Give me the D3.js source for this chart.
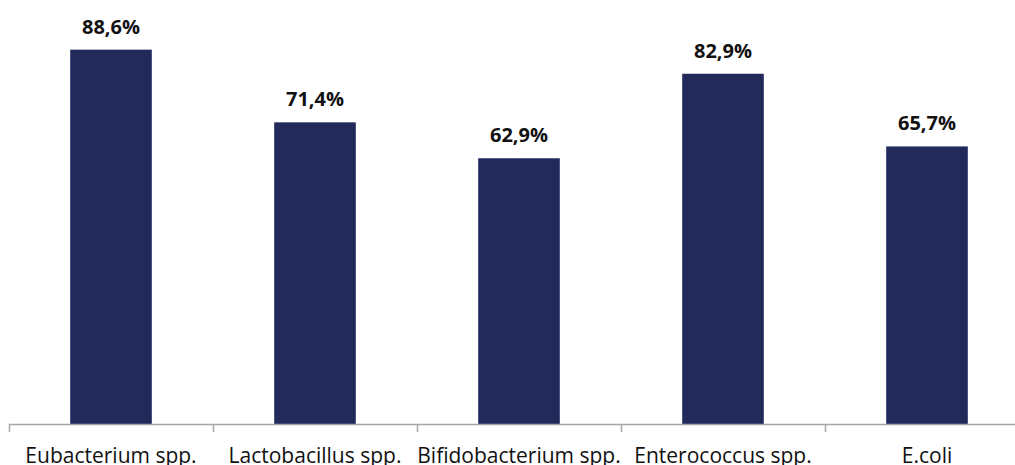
<!DOCTYPE html>
<html>
<head>
<meta charset="utf-8">
<script src="https://cdn.jsdelivr.net/npm/d3@7"></script>
<style>
  body { margin: 0; background: #fff; }
  svg { display: block; }
</style>
</head>
<body>
<svg></svg>
<script>
let categories = ["Eubacterium spp.", "Lactobacillus spp.", "Bifidobacterium spp.", "Enterococcus spp.", "E.coli"];
let values = [88.6, 71.4, 62.9, 82.9, 65.7];
let valueLabels = ["88,6%", "71,4%", "62,9%", "82,9%", "65,7%"];

window.addEventListener('load', e => {
    drawChart();
});

function drawChart() {
    let width = 1015;
    let height = 465;
    let baseline = 424;

    let svg = d3.select("svg")
        .attr("width", width)
        .attr("height", height);

    let xScale = d3.scaleBand()
                   .domain(categories)
                   .range([9, 1029])
                   .padding(0);

    let yScale = d3.scaleLinear()
                   .domain([0, 100])
                   .range([baseline, 1.5]);

    let barWidth = xScale.bandwidth() * 0.4;

    svg.selectAll(".bar")
        .data(values)
        .enter()
        .append("rect")
        .attr("class", "bar")
        .attr("x", (d, i) => xScale(categories[i]) + (xScale.bandwidth() - barWidth) / 2)
        .attr("y", d => yScale(d))
        .attr("width", barWidth)
        .attr("height", d => baseline - yScale(d))
        .attr("fill", "#222a5c");

    svg.selectAll(".value")
        .data(values)
        .enter()
        .append("text")
        .attr("class", "value")
        .attr("x", (d, i) => xScale(categories[i]) + xScale.bandwidth() / 2)
        .attr("y", d => yScale(d) - 16)
        .attr("text-anchor", "middle")
        .attr("font-family", "'Open Sans', sans-serif")
        .attr("font-weight", "bold")
        .attr("font-size", "20px")
        .attr("fill", "#111")
        .text((d, i) => valueLabels[i]);

    // axis line with ticks between categories
    let axis = svg.append("g");
    axis.append("line")
        .attr("x1", 9).attr("x2", width)
        .attr("y1", baseline + 0.5).attr("y2", baseline + 0.5)
        .attr("stroke", "#a6a6a6")
        .attr("stroke-width", 1.5);

    axis.selectAll(".tick")
        .data(categories)
        .enter()
        .append("line")
        .attr("x1", d => Math.round(xScale(d)) + 0.5)
        .attr("x2", d => Math.round(xScale(d)) + 0.5)
        .attr("y1", baseline)
        .attr("y2", baseline + 8)
        .attr("stroke", "#a6a6a6")
        .attr("stroke-width", 1.5);

    axis.selectAll(".cat")
        .data(categories)
        .enter()
        .append("text")
        .attr("x", d => xScale(d) + xScale.bandwidth() / 2)
        .attr("y", 463)
        .attr("text-anchor", "middle")
        .attr("font-family", "'Open Sans', sans-serif")
        .attr("font-size", "21px")
        .attr("fill", "#111")
        .text(d => d);
}
</script>
</body>
</html>
